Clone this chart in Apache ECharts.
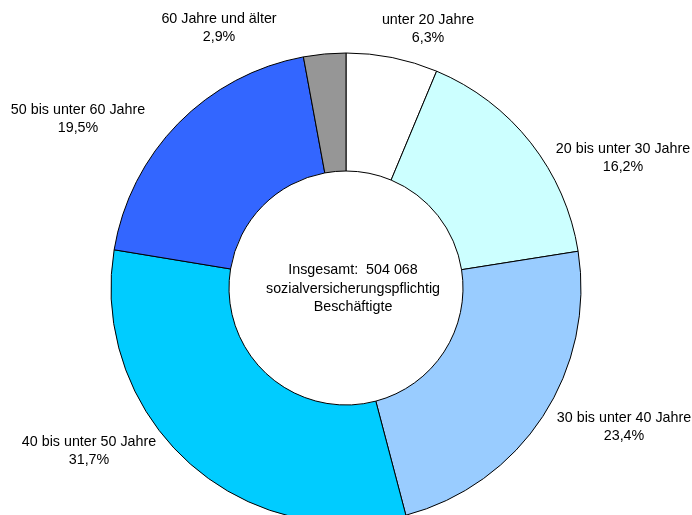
<!DOCTYPE html>
<html>
<head>
<meta charset="utf-8">
<script src="https://cdn.jsdelivr.net/npm/echarts@6/dist/echarts.min.js"></script>
<style>
html, body { margin: 0; padding: 0; background: #fff; }
#chart { width: 692px; height: 515px; }
</style>
</head>
<body>
<div id="chart"></div>
<script>
// Altersgruppen und Anteile (%)
const categories = ["unter 20 Jahre", "20 bis unter 30 Jahre", "30 bis unter 40 Jahre",
    "40 bis unter 50 Jahre", "50 bis unter 60 Jahre", "60 Jahre und älter"];
const shares = [6.3, 16.2, 23.4, 31.7, 19.5, 2.9];
const centerLines = ["Insgesamt:  504 068", "sozialversicherungspflichtig", "Beschäftigte"];

const colors = ["#FFFFFF", "#CCFFFF", "#99CCFF", "#00CCFF", "#3366FF", "#969696"];
// label anchor points (Excel put them by hand)
const labelAt = [[428, 29], [623, 158], [624, 427], [89, 451], [78, 119], [219, 28]];

const chart = echarts.init(document.getElementById("chart"));
const font = "Liberation Sans, Arial, sans-serif";

chart.setOption({
    animation: false,
    color: colors,
    title: {
        text: centerLines.join("\n"),
        left: 348,
        top: 284,
        textAlign: "center",
        textVerticalAlign: "middle",
        textStyle: {
            fontFamily: font,
            fontSize: 14.3,
            fontWeight: "normal",
            color: "#000",
            lineHeight: 18.5
        }
    },
    series: [{
        type: "pie",
        center: [346, 288],
        radius: [117, 235],
        startAngle: 90,
        clockwise: true,
        avoidLabelOverlap: false,
        itemStyle: { borderColor: "#000", borderWidth: 1 },
        label: {
            show: true,
            position: "outside",
            fontFamily: font,
            fontSize: 14.3,
            color: "#000",
            lineHeight: 18,
            align: "center",
            formatter: p => p.name + "\n" + p.value.toFixed(1).replace(".", ",") + "%"
        },
        labelLine: { show: false },
        labelLayout: p => ({
            x: labelAt[p.dataIndex][0],
            y: labelAt[p.dataIndex][1],
            align: "center",
            verticalAlign: "middle"
        }),
        emphasis: { disabled: true },
        data: categories.map((c, i) => ({ name: c, value: shares[i] }))
    }]
});
</script>
</body>
</html>
